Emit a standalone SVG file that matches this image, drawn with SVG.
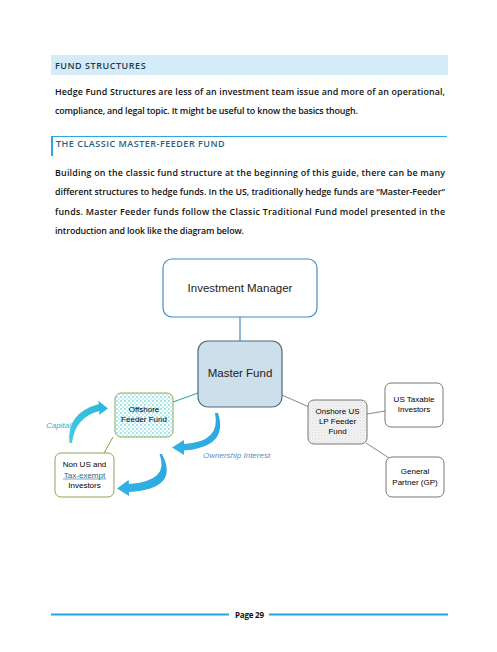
<svg xmlns="http://www.w3.org/2000/svg" width="497" height="652" viewBox="0 0 497 652">
<style>
.body{font-family:"Open Sans","Liberation Sans",sans-serif;font-size:8.9px;font-weight:600;fill:#111}
.hd{font-family:"Open Sans","Liberation Sans",sans-serif;font-size:9px;font-weight:600;fill:#1e3a4c;letter-spacing:0.4px}
.hd2{font-family:"Open Sans","Liberation Sans",sans-serif;font-size:9px;font-weight:600;fill:#2b5f80;letter-spacing:0.4px}
.big{font-family:"Liberation Sans",Arial,sans-serif;font-size:11.5px;fill:#222;text-anchor:middle}
.sm{font-family:"Liberation Sans",Arial,sans-serif;font-size:8px;fill:#000;text-anchor:middle}
.lbl{font-family:"Liberation Sans",Arial,sans-serif;font-size:8px;font-style:italic}
</style>
<defs>
<pattern id="chk" width="4" height="4" patternUnits="userSpaceOnUse">
<rect width="4" height="4" fill="#ffffff"/>
<rect width="2" height="2" fill="#a8e6ee"/>
<rect x="2" y="2" width="2" height="2" fill="#c8f0f4"/>
</pattern>
<pattern id="gchk" width="3" height="3" patternUnits="userSpaceOnUse">
<rect width="3" height="3" fill="#fafafa"/>
<rect width="1.5" height="1.5" fill="#dcdcdc"/>
<rect x="1.5" y="1.5" width="1.5" height="1.5" fill="#e8e8e8"/>
</pattern>
<linearGradient id="g1" x1="0" y1="1" x2="1" y2="0">
<stop offset="0" stop-color="#42cde0"/>
<stop offset="1" stop-color="#2ab4dc"/>
</linearGradient>
<linearGradient id="g2" x1="1" y1="0" x2="0" y2="1">
<stop offset="0" stop-color="#2aa6e0"/>
<stop offset="1" stop-color="#33b2e6"/>
</linearGradient>
</defs>

<!-- Header -->
<rect x="51" y="55" width="397" height="20" fill="#d3ecf7"/>
<text class="hd" x="55" y="68.5" textLength="91">FUND STRUCTURES</text>

<text class="body" x="55" y="94.5" textLength="390" lengthAdjust="spacing">Hedge Fund Structures are less of an investment team issue and more of an operational,</text>
<text class="body" x="55" y="114" textLength="303" lengthAdjust="spacing">compliance, and legal topic. It might be useful to know the basics though.</text>

<!-- Section heading -->
<line x1="51" y1="136.5" x2="447" y2="136.5" stroke="#2aa8e0" stroke-width="1"/>
<line x1="52" y1="136" x2="52" y2="156" stroke="#2aa8e0" stroke-width="2"/>
<text class="hd2" x="56" y="147" textLength="169">THE CLASSIC MASTER-FEEDER FUND</text>

<text class="body" x="55" y="176" textLength="390" lengthAdjust="spacing">Building on the classic fund structure at the beginning of this guide, there can be many</text>
<text class="body" x="55" y="195" textLength="390" lengthAdjust="spacing">different structures to hedge funds.  In the US, traditionally hedge funds are “Master-Feeder”</text>
<text class="body" x="55" y="214.5" textLength="390" lengthAdjust="spacing">funds. Master Feeder funds follow the Classic Traditional Fund model presented in the</text>
<text class="body" x="55" y="233.5" textLength="189" lengthAdjust="spacing">introduction and look like the diagram below.</text>

<!-- Connectors -->
<g id="connectors" fill="none">
<line x1="240" y1="317" x2="240" y2="341" stroke="#4a88b8" stroke-width="1.2"/>
<line x1="198" y1="393" x2="173" y2="402" stroke="#2a9aa8" stroke-width="1"/>
<line x1="113" y1="437" x2="104" y2="453" stroke="#8a9a40" stroke-width="1"/>
<line x1="282" y1="395" x2="309" y2="407" stroke="#888" stroke-width="1"/>
<line x1="367" y1="414" x2="385" y2="411" stroke="#888" stroke-width="1"/>
<line x1="366" y1="443" x2="389" y2="458" stroke="#888" stroke-width="1"/>
</g>

<!-- Nodes -->
<g id="investment-manager">
<rect x="163" y="259" width="154" height="58" rx="9" fill="#fff" stroke="#3f8ccc" stroke-width="1.2"/>
<text class="big" x="240" y="292">Investment Manager</text>
</g>
<g id="master-fund">
<rect x="198" y="341" width="84" height="66" rx="10" fill="#cddfea" stroke="#4b6a82" stroke-width="1.2"/>
<text class="big" x="240" y="377">Master Fund</text>
</g>
<g id="offshore-feeder">
<rect x="115" y="393" width="58" height="44" rx="6" fill="url(#chk)" stroke="#8fae5a" stroke-width="1"/>
<text class="sm" x="144" y="412">Offshore</text>
<text class="sm" x="144" y="422">Feeder Fund</text>
</g>
<g id="non-us">
<rect x="55" y="453" width="59" height="44" rx="6" fill="#fff" stroke="#8fa55a" stroke-width="1"/>
<text class="sm" x="84.5" y="467">Non US and</text>
<text class="sm" x="84.5" y="477.5" style="fill:#1f6a8a">Tax-exempt</text>
<line x1="63" y1="479" x2="106" y2="479" stroke="#1f6a8a" stroke-width="0.6"/>
<text class="sm" x="84.5" y="488">Investors</text>
</g>
<g id="onshore-feeder">
<rect x="308" y="400" width="59" height="44" rx="6" fill="url(#gchk)" stroke="#777" stroke-width="1"/>
<text class="sm" x="337.5" y="414">Onshore US</text>
<text class="sm" x="337.5" y="424">LP Feeder</text>
<text class="sm" x="337.5" y="434">Fund</text>
</g>
<g id="us-taxable">
<rect x="385" y="383" width="58" height="44" rx="6" fill="#fff" stroke="#777" stroke-width="1"/>
<text class="sm" x="414" y="402">US Taxable</text>
<text class="sm" x="414" y="412">Investors</text>
</g>
<g id="general-partner">
<rect x="386" y="457" width="58" height="40" rx="6" fill="#fff" stroke="#777" stroke-width="1"/>
<text class="sm" x="415" y="474">General</text>
<text class="sm" x="415" y="484.5">Partner (GP)</text>
</g>

<!-- Curved arrows -->
<g id="arrows">
<path d="M 69.5,443 Q 66,413 99,404 L 98,400.5 L 108,408.5 L 99,415 L 99.5,411 Q 75,417 72,443 Z" fill="url(#g1)"/>
<path d="M 159.5,454 Q 170,481 129,484 L 128.5,480 L 117,488.5 L 129,496 L 129,492 Q 180,489 162,454 Z" fill="url(#g2)"/>
<path d="M 215,413 Q 221,442 184,444 L 184,440 L 172,447.5 L 184,455 L 184,450.5 Q 229,447 218,413 Z" fill="url(#g2)"/>
</g>
<text class="lbl" x="46" y="428" fill="#3aaac8">Capital</text>
<text class="lbl" x="203" y="458" fill="#5a90c4">Ownership Interest</text>

<!-- Footer -->
<line x1="51" y1="614.5" x2="229" y2="614.5" stroke="#1ea8e0" stroke-width="2"/>
<line x1="269" y1="614.5" x2="448" y2="614.5" stroke="#1ea8e0" stroke-width="2"/>
<text x="235" y="617.5" font-family="Open Sans,Liberation Sans,sans-serif" font-size="8px" font-weight="700" fill="#111" textLength="29">Page 29</text>
</svg>
